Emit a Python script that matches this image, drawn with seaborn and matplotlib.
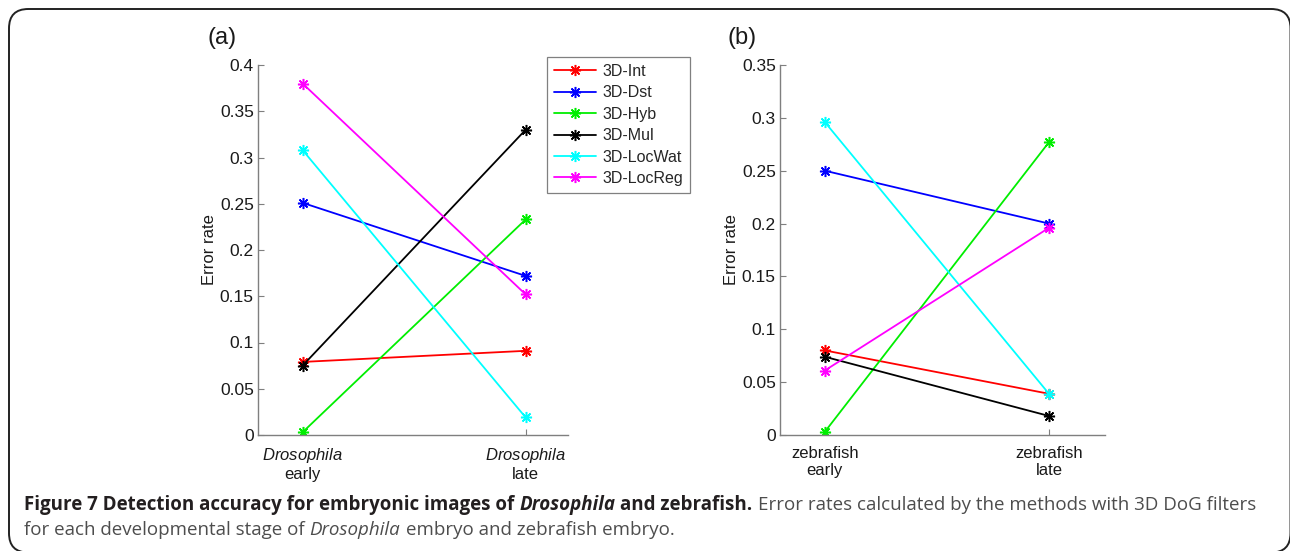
import numpy as np
import pandas as pd
import matplotlib
matplotlib.use("Agg")
import matplotlib.pyplot as plt
import seaborn as sns
from matplotlib.lines import Line2D
from matplotlib.patches import FancyBboxPatch

# ---------------- data ----------------
methods = ['3D-Int', '3D-Dst', '3D-Hyb', '3D-Mul', '3D-LocWat', '3D-LocReg']
colors = ['#ff0000', '#0000ff', '#00ee00', '#000000', '#00ffff', '#ff00ff']

stage_pos = [1, 2]
dros_labels = ['$\\mathit{Drosophila}$\nearly', '$\\mathit{Drosophila}$\nlate']
zf_labels = ['zebrafish\nearly', 'zebrafish\nlate']

dros_early = [0.079, 0.251, 0.003, 0.075, 0.308, 0.380]
dros_late = [0.091, 0.172, 0.233, 0.330, 0.019, 0.152]
zf_early = [0.080, 0.250, 0.003, 0.074, 0.296, 0.061]
zf_late = [0.039, 0.200, 0.277, 0.018, 0.039, 0.196]

dros_yticks = [0, 0.05, 0.1, 0.15, 0.2, 0.25, 0.3, 0.35, 0.4]
zf_yticks = [0, 0.05, 0.1, 0.15, 0.2, 0.25, 0.3, 0.35]

caption1 = [("Figure 7 Detection accuracy for embryonic images of", "bold", "normal"),
            ("Drosophila", "bold", "italic"),
            ("and zebrafish.", "bold", "normal"),
            ("Error rates calculated by the methods with 3D DoG filters", "normal", "normal")]
caption2 = [("for each developmental stage of", "normal", "normal"),
            ("Drosophila", "normal", "italic"),
            ("embryo and zebrafish embryo.", "normal", "normal")]

# ---------------- style ----------------
sns.set_theme(style="white")
plt.rcParams['font.family'] = ['Liberation Sans', 'DejaVu Sans']
plt.rcParams['mathtext.fontset'] = 'custom'
plt.rcParams['mathtext.it'] = 'Liberation Sans:italic'
plt.rcParams['mathtext.rm'] = 'Liberation Sans'

W, H = 1290, 551
fig = plt.figure(figsize=(W / 100, H / 100), dpi=100)
fig.patch.set_facecolor('white')

def long_df(early, late):
    rows = []
    for m, e, l in zip(methods, early, late):
        rows.append((m, stage_pos[0], e))
        rows.append((m, stage_pos[1], l))
    return pd.DataFrame(rows, columns=['method', 'pos', 'err'])

axA = fig.add_axes([258 / W, 1 - 435 / H, 310 / W, 370 / H])
axB = fig.add_axes([780 / W, 1 - 435 / H, 325 / W, 370 / H])

marker = (8, 2, 0)
spine_c = '#7f7f7f'

for ax, early, late, labels, yticks, xlim in [
        (axA, dros_early, dros_late, dros_labels, dros_yticks, (0.8, 2.19)),
        (axB, zf_early, zf_late, zf_labels, zf_yticks, (0.8, 2.25))]:
    df = long_df(early, late)
    sns.lineplot(data=df, x='pos', y='err', hue='method', hue_order=methods,
                 palette=dict(zip(methods, colors)), errorbar=None,
                 marker=marker, markersize=8, markeredgewidth=1.1,
                 markeredgecolor=None, linewidth=1.3, legend=False, ax=ax)
    ax.set_xlim(*xlim)
    ax.set_ylim(yticks[0], yticks[-1])
    ax.set_xticks(stage_pos)
    ax.set_xticklabels(labels, fontsize=12, linespacing=1.15, color='#1a1a1a')
    ax.set_yticks(yticks)
    ax.set_yticklabels([('%g' % v) for v in yticks], fontsize=12.5, color='#1a1a1a')
    ax.set_xlabel('')
    ax.set_ylabel('Error rate', fontsize=12, color='#1a1a1a', labelpad=2)
    for s in ['top', 'right']:
        ax.spines[s].set_visible(False)
    for s in ['left', 'bottom']:
        ax.spines[s].set_color(spine_c)
        ax.spines[s].set_linewidth(1.0)
    ax.tick_params(axis='both', direction='in', length=4, width=0.8, color=spine_c,
                   left=True, bottom=True)
    ax.tick_params(axis='x', pad=8)
    ax.tick_params(axis='y', pad=3)
    ax.set_facecolor('white')
    ax.grid(False)

handles = [Line2D([], [], color=c, marker=marker, markersize=8, markeredgewidth=1.1,
                  linewidth=1.3) for c in colors]
leg = axA.legend(handles, methods, loc='upper left', bbox_to_anchor=(0.932, 1.022),
                 fontsize=11.5, handlelength=2.65, handletextpad=0.35, labelspacing=0.4,
                 borderpad=0.45, frameon=True, fancybox=False, borderaxespad=0)
leg.get_frame().set_edgecolor('#606060')
leg.get_frame().set_linewidth(0.9)

fig.text(222 / W, 1 - 38 / H, '(a)', fontsize=17, ha='center', va='center', color='#1a1a1a')
fig.text(742 / W, 1 - 38 / H, '(b)', fontsize=17, ha='center', va='center', color='#1a1a1a')

# ---------------- caption ----------------
renderer = fig.canvas.get_renderer()
cap_font = ['Open Sans', 'DejaVu Sans']

def draw_line(pieces, x0, y, size, colors_by_weight):
    x = x0
    arts = []
    for txt, weight, style in pieces:
        t = fig.text(x / W, 1 - y / H, txt, fontsize=size, fontweight=weight,
                     fontstyle=style, family=cap_font, va='baseline', ha='left',
                     color=colors_by_weight[weight])
        bb = t.get_window_extent(renderer)
        x = bb.x1 + size * 0.27 * 100 / 72
        arts.append(t)
    return x, arts

cap_colors = {'bold': '#231f20', 'normal': '#4d4d4d'}
x_start, x_end = 24, 1252
trial = 12.0
xe, arts = draw_line(caption1, x_start, 510, trial, cap_colors)
for a in arts:
    a.remove()
size = trial * (x_end - x_start) / (xe - x_start - trial * 0.27 * 100 / 72)
draw_line(caption1, x_start, 510, size, cap_colors)
draw_line(caption2, x_start, 535, size, cap_colors)

# rounded border, right/bottom edges fall at the image edge
border = FancyBboxPatch((9 / W, -1.5 / H), (1290.5 - 9) / W, (542 + 1.5) / H,
                        boxstyle='round,pad=0,rounding_size=0.015',
                        transform=fig.transFigure, fill=False,
                        edgecolor='#222222', linewidth=1.4, mutation_aspect=W / H)
fig.patches.append(border)

fig.savefig('out.png', dpi=100, facecolor='white')
